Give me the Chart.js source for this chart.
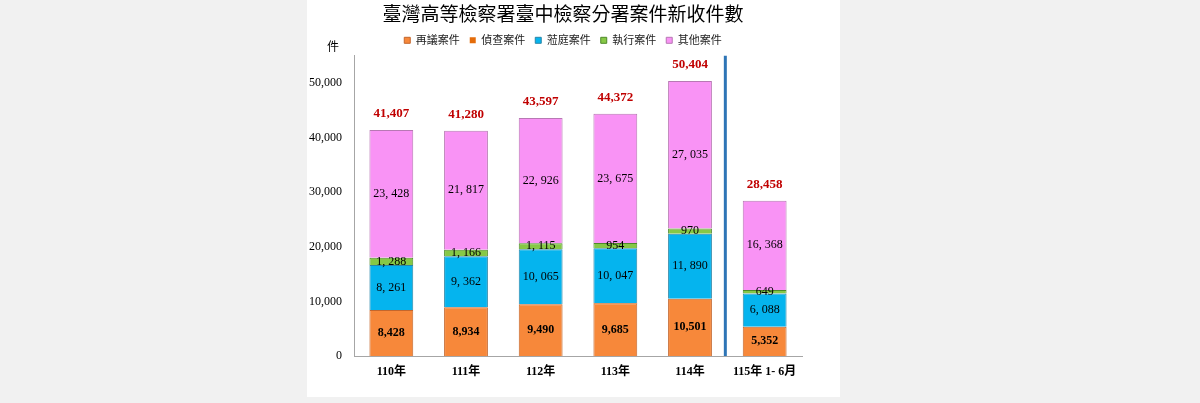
<!DOCTYPE html>
<html>
<head>
<meta charset="utf-8">
<script src="https://cdn.jsdelivr.net/npm/chart.js@4.4.1/dist/chart.umd.min.js"></script>
<style>
body { margin: 0; background: #f1f1f1; }
#panel { position: absolute; left: 307px; top: 0; width: 533px; height: 397px; background: #fff; }
</style>
</head>
<body>
<div id="panel"><canvas id="chart" width="533" height="397"></canvas></div>
<script>
// data
const years = ['110年', '111年', '112年', '113年', '114年', '115年 1- 6月'];
const reconsider = [8428, 8934, 9490, 9685, 10501, 5352];      // 再議案件
const investigation = [2, 1, 1, 11, 8, 1];                     // 偵查案件
const courtCases = [8261, 9362, 10065, 10047, 11890, 6088];    // 蒞庭案件
const enforcement = [1288, 1166, 1115, 954, 970, 649];         // 執行案件
const others = [23428, 21817, 22926, 23675, 27035, 16368];     // 其他案件
const yTicks = [0, 10000, 20000, 30000, 40000, 50000];

const serif = '"Liberation Serif", "Noto Sans CJK TC", serif';
const cjk = '"Noto Sans CJK TC", "Liberation Serif", sans-serif';

function spaced(v) {
    return v.toLocaleString('en-US').replace(',', ', ');
}
function plain(v) {
    return v.toLocaleString('en-US');
}

const labelPlugin = {
    id: 'barLabels',
    afterDatasetsDraw(chart) {
        const ctx = chart.ctx;
        const x = chart.scales.x;
        const y = chart.scales.y;
        const area = chart.chartArea;
        ctx.save();

        // divider between full years and the half year
        const mid = (x.getPixelForValue(4) + x.getPixelForValue(5)) / 2 - 2;
        ctx.strokeStyle = '#2e75b6';
        ctx.lineWidth = 3;
        ctx.beginPath();
        ctx.moveTo(mid, area.top);
        ctx.lineTo(mid, area.bottom);
        ctx.stroke();

        // y tick labels (drawn here so they are not clipped by the padding)
        ctx.textAlign = 'right';
        ctx.textBaseline = 'middle';
        ctx.font = '12px ' + serif;
        ctx.fillStyle = '#000';
        yTicks.forEach(v => ctx.fillText(plain(v), area.left - 12, y.getPixelForValue(v)));

        ctx.textAlign = 'center';
        chart.data.datasets.forEach((ds, i) => {
            if (!ds.labelFont) return;
            chart.getDatasetMeta(i).data.forEach((bar, j) => {
                ctx.font = ds.labelFont;
                ctx.fillStyle = '#000';
                ctx.fillText(ds.fmt(ds.data[j]), bar.x, (bar.y + bar.base) / 2);
            });
        });

        // totals above each bar
        const last = chart.getDatasetMeta(chart.data.datasets.length - 1);
        ctx.font = 'bold 13px ' + serif;
        ctx.fillStyle = '#c00000';
        last.data.forEach((bar, j) => {
            let total = 0;
            chart.data.datasets.forEach(ds => total += ds.data[j]);
            ctx.fillText(plain(total), bar.x, bar.y - 16);
        });

        // unit label
        ctx.font = '12px ' + cjk;
        ctx.fillStyle = '#000';
        ctx.fillText('件', 26, 46);
        ctx.restore();
    }
};

new Chart(document.getElementById('chart').getContext('2d'), {
    type: 'bar',
    data: {
        labels: years,
        datasets: [
            { label: '再議案件', data: reconsider, backgroundColor: '#f7883a', borderColor: '#c4662c', borderWidth: 1,
              labelFont: 'bold 12px ' + serif, fmt: plain },
            { label: '偵查案件', data: investigation, backgroundColor: '#e46c0a', borderWidth: 0 },
            { label: '蒞庭案件', data: courtCases, backgroundColor: '#05b4ee', borderColor: '#2a86a8', borderWidth: 1,
              labelFont: '12px ' + serif, fmt: spaced },
            { label: '執行案件', data: enforcement, backgroundColor: '#86c846', borderColor: '#4f8a2a', borderWidth: 1,
              labelFont: '12px ' + serif, fmt: spaced },
            { label: '其他案件', data: others, backgroundColor: '#f993f5', borderColor: '#b878b4', borderWidth: 1,
              labelFont: '12px ' + serif, fmt: spaced }
        ]
    },
    options: {
        responsive: false,
        animation: false,
        layout: { padding: { left: 17, right: 38, top: 0, bottom: 0 } },
        datasets: { bar: { categoryPercentage: 1, barPercentage: 0.587 } },
        plugins: {
            title: {
                display: true,
                text: '臺灣高等檢察署臺中檢察分署案件新收件數',
                color: '#000',
                font: { family: cjk, size: 19, weight: 'normal', lineHeight: 1.2 },
                padding: { top: 2, bottom: 0 }
            },
            legend: {
                display: true,
                labels: {
                    boxWidth: 6, boxHeight: 6, padding: 10,
                    color: '#222',
                    font: { family: cjk, size: 11 }
                }
            },
            tooltip: { enabled: false }
        },
        scales: {
            x: {
                stacked: true,
                grid: { display: false, drawTicks: false },
                border: { display: true, color: '#a6a6a6' },
                ticks: { color: '#000', font: { family: serif, size: 12, weight: 'bold' }, padding: 9, maxRotation: 0 },
                afterFit(scale) { scale.height = 41; }
            },
            y: {
                stacked: true,
                min: 0,
                max: 55000,
                grid: { display: false, drawTicks: false },
                border: { display: true, color: '#a6a6a6' },
                ticks: { display: false },
                afterBuildTicks(scale) { scale.ticks = yTicks.map(v => ({ value: v })); },
                afterFit(scale) { scale.width = 30; }
            }
        }
    },
    plugins: [labelPlugin]
});
</script>
</body>
</html>
